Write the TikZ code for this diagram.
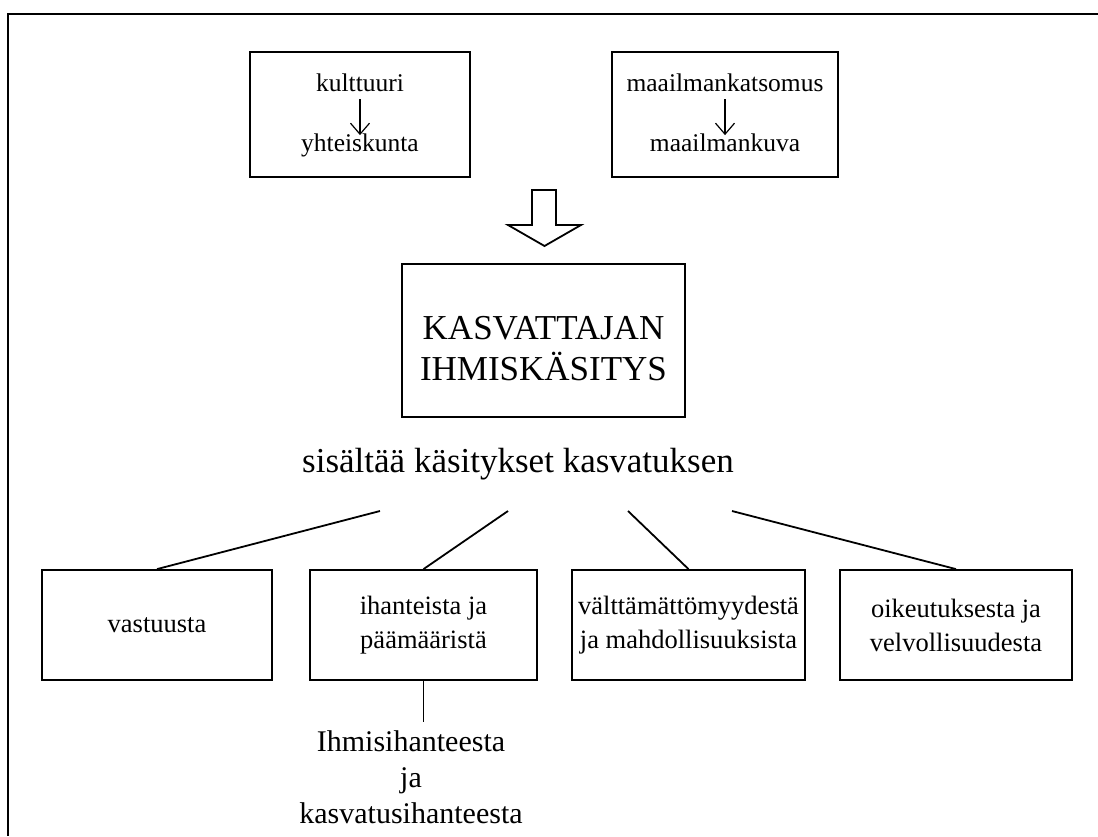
\documentclass[tikz,border=0pt]{standalone}
\usepackage{fontspec}
\setmainfont{Liberation Serif}
\usetikzlibrary{arrows,arrows.meta,positioning,calc}
\tikzset{box/.style={draw,line width=1.8pt,inner sep=0pt}}
\tikzset{l/.style={font=\fontsize{25.5}{34}\selectfont}}
\tikzset{n/.style={font=\fontsize{26.5}{34}\selectfont}}
\tikzset{m/.style={font=\fontsize{30}{36}\selectfont}}
\tikzset{big/.style={font=\fontsize{35}{41}\selectfont}}
\tikzset{down/.style={<-,line width=1.2pt,>={Straight Barb[length=11pt,width=19pt]}}}

\begin{document}
\begin{tikzpicture}[x=1pt,y=-1pt,line join=miter]
  \useasboundingbox (0,0) rectangle (1098,836);
  \draw[line width=2.2pt] (1098,14) -- (8,14) -- (8,836);
  % top boxes
  \node[box,minimum width=220,minimum height=125] (K) at (360,114.5) {};
  \node[l,anchor=base,inner sep=1pt] (K1) at (360,91) {kulttuuri};
  \node[l,anchor=base,inner sep=1pt] (K2) at (360,151) {yhteiskunta}
    edge [down,shorten <=-3pt,shorten >=7pt] (K1);
  \node[box,minimum width=226,minimum height=125] (M) at (725,114.5) {};
  \node[l,anchor=base,inner sep=1pt] (M1) at (725,91) {maailmankatsomus};
  \node[l,anchor=base,inner sep=1pt] (M2) at (725,151) {maailmankuva}
    edge [down,shorten <=-3pt,shorten >=7pt] (M1);
  % hollow arrow
  \draw[line width=1.8pt] (532,190) -- (556,190) -- (556,225) -- (581,225)
    -- (544.5,246) -- (508,225) -- (532,225) -- cycle;
  % main box
  \node[box,minimum width=283,minimum height=153] (H) at (543.5,340.5) {};
  \node[big,anchor=base] (H1) at (543.5,339) {KASVATTAJAN};
  \node[big,anchor=base] (H2) at (543.5,380) {IHMISKÄSITYS};
  \node[m,anchor=base,font=\fontsize{35}{40}\selectfont] (S) at (518,472) {sisältää käsitykset kasvatuksen};
  % lower boxes
  \begin{scope}[n,align=center]
    \node[box,minimum width=230,minimum height=110] (A) at (157,625) {vastuusta};
    \node[box,minimum width=227,minimum height=110] (B) at (423.5,625) {ihanteista ja\\päämääristä};
    \node[box,minimum width=233,minimum height=110] (C) at (688.5,625) {välttämättömyydestä\\ja mahdollisuuksista};
    \node[box,minimum width=232,minimum height=110] (D) at (956,625) {oikeutuksesta ja\\velvollisuudesta};
  \end{scope}
  \coordinate (a) at (380,511);
  \coordinate (b) at (508,511);
  \coordinate (c) at (628,511);
  \coordinate (d) at (732,511);
  \draw[line width=1.8pt] (a) -- (A.north);
  \draw[line width=1.8pt] (b) -- (B.north);
  \draw[line width=1.8pt] (c) -- (C.north);
  \draw[line width=1.8pt] (d) -- (D.north);
  \node[m,align=center,anchor=north,inner sep=0pt] (I) at (411,730) {Ihmisihanteesta\\ja\\kasvatusihanteesta};
  \draw[line width=1.8pt] (B.south) -- ($(B.south)+(0,41)$);
\end{tikzpicture}
\end{document}
